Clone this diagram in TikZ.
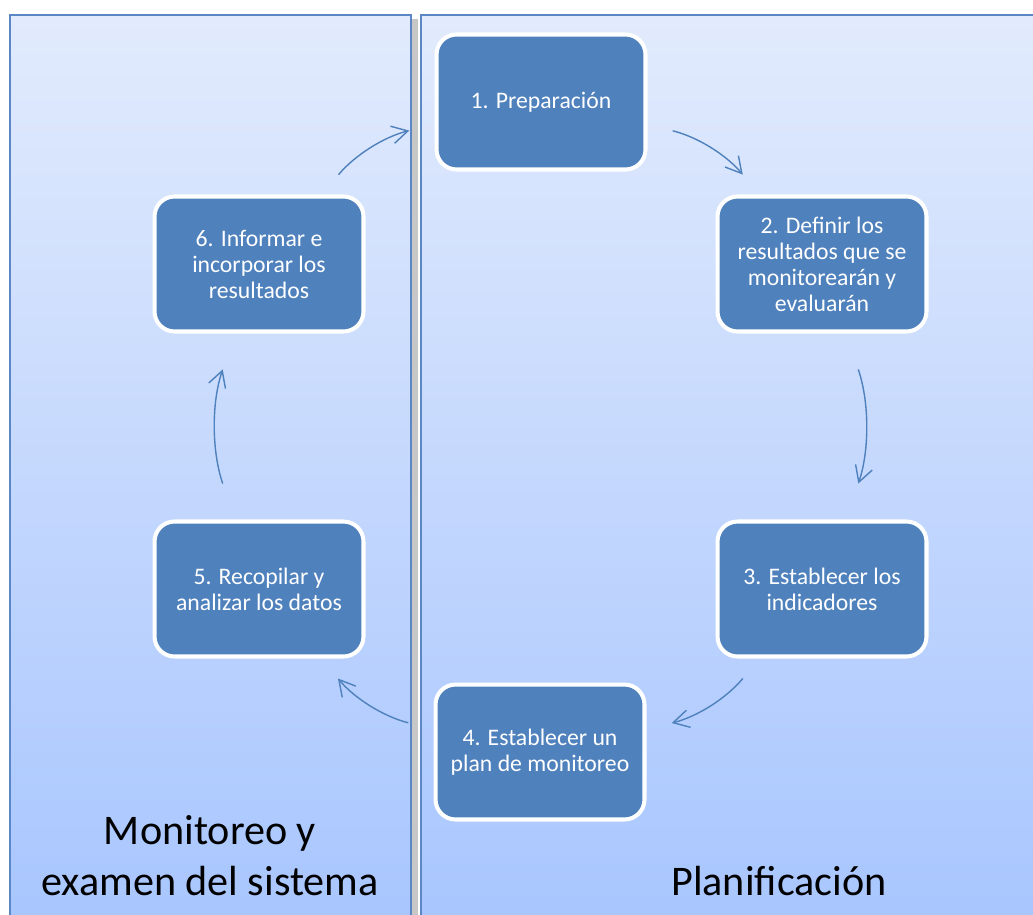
\documentclass[tikz,border=0pt]{standalone}
\usepackage{fontspec}
\setmainfont{Carlito}
\usetikzlibrary{arrows.meta}
\usetikzlibrary{calc}
\definecolor{boxblue}{HTML}{4F81BD}
\definecolor{paneltop}{HTML}{E2EBFD}
\definecolor{panelbottom}{HTML}{A7C5FE}
\definecolor{panelline}{HTML}{5B87C5}
\tikzset{
    panel/.style={draw=panelline, line width=1.2pt, top color=paneltop, bottom color=panelbottom},
    stage/.style={draw=white, line width=2.3pt, fill=boxblue, rounded corners=0.4cm,
        text=white, align=center, minimum width=4.18cm, minimum height=2.7cm,
        font=\fontsize{13.5}{14.8}\selectfont},
    cycle arrow/.style={draw=boxblue, line width=0.8pt, -{Straight Barb[length=9pt, width=10pt]}},
    panel title/.style={anchor=base, align=center, font=\fontsize{24}{28.5}\selectfont},
}

\begin{document}
\begin{tikzpicture}[x=0.02cm, y=0.02cm]

    \useasboundingbox (0,0) rectangle (1033,914);
    \clip (0,0) rectangle (1033,914);

    % the two panels, with their shadows
    \fill[black!22] (15,-20) rectangle (418,895);
    \fill[black!22] (426,-20) rectangle (1050,895);
    \path[panel] (10,-20) rectangle (411,899);
    \path[panel] (421,-20) rectangle (1050,899);

    \node[panel title] (mon) at (210,19) {Monitoreo y\\examen del sistema};
    \node[panel title] (plan) at (779,19) {Planificación};

    % the six stages
    \node[stage] (n1) at (541,812) {1. Preparación};
    \node[stage] (n2) at (822,650) {2. Definir los\\resultados que se\\monitorearán y\\evaluarán};
    \node[stage] (n3) at (822,325) {3. Establecer los\\indicadores};
    \node[stage] (n4) at (540,162) {4. Establecer un\\plan de monitoreo};
    \node[stage] (n5) at (259,325) {5. Recopilar y\\analizar los datos};
    \node[stage] (n6) at (259,650) {6. Informar e\\incorporar los\\resultados};

    \foreach \a/\b/\bend/\sh in {n1/n2/18/0.52, n2/n3/19/0.76, n3/n4/18/0.52,
                                 n4/n5/18/0.52, n5/n6/19/0.76, n6/n1/18/0.52}{
        \draw[cycle arrow, shorten <=\sh cm, shorten >=\sh cm] (\a) to[bend left=\bend] (\b);
    }

\end{tikzpicture}
\end{document}
